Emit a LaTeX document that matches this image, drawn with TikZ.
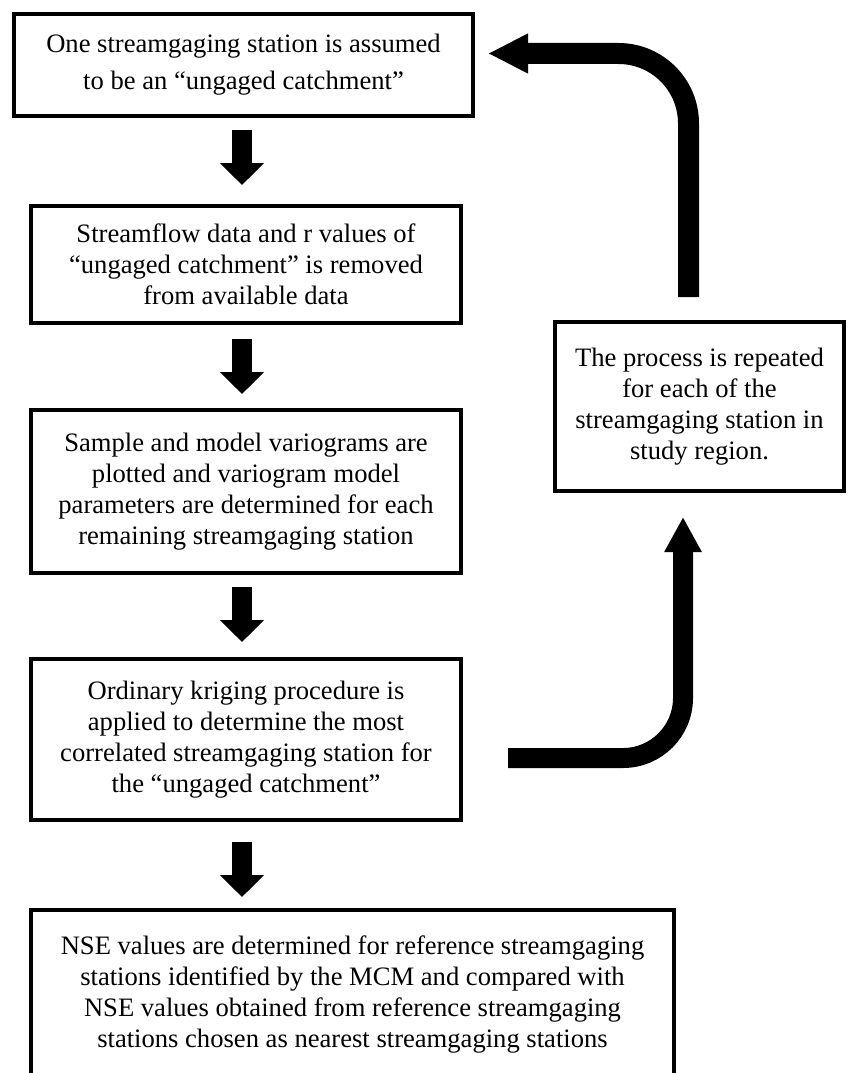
\documentclass[tikz,border=0pt]{standalone}
\usepackage{fontspec}
\setmainfont{Liberation Serif}
\usetikzlibrary{arrows.meta,calc}
\begin{document}
\begin{tikzpicture}[x=1pt,y=-1pt,
  box/.style={draw, line width=4pt, rectangle, align=center, inner sep=0pt,
    font=\fontsize{26.6}{31}\selectfont},
  downarr/.style={line width=20pt, -{Triangle[length=22pt,width=43pt]}},
  looparr/.style={line width=20pt, rounded corners=#1},
]
\clip (0,0) rectangle (848,1073);
\node[box, minimum width=459pt, minimum height=102pt, font=\fontsize{26.6}{37}\selectfont] (b1) at (243.5,65)
  {One streamgaging station is assumed\\to be an “ungaged catchment”};
\node[box, minimum width=430pt, minimum height=117pt] (b2) at (246,264.5)
  {Streamflow data and r values of\\“ungaged catchment” is removed\\from available data};
\node[box, minimum width=430pt, minimum height=163pt] (b3) at (246,491.5)
  {Sample and model variograms are\\plotted and variogram model\\parameters are determined for each\\remaining streamgaging station};
\node[box, minimum width=430pt, minimum height=161pt] (b4) at (246,739.5)
  {Ordinary kriging procedure is\\applied to determine the most\\correlated streamgaging station for\\the “ungaged catchment”};
\node[box, minimum width=643pt, minimum height=168pt] (b6) at (352.5,994)
  {NSE values are determined for reference streamgaging\\stations identified by the MCM and compared with\\NSE values obtained from reference streamgaging\\stations chosen as nearest streamgaging stations};
\node[box, minimum width=289pt, minimum height=169pt] (b5) at (699.5,406.5)
  {The process is repeated\\for each of the\\streamgaging station in\\study region.};

\draw[downarr] ($(b1.south)+(-1.5,12)$) -- ($(b2.north)+(-4,-19)$);
\draw[downarr] ($(b2.south)+(-4,14)$) -- ($(b3.north)+(-4,-14)$);
\draw[downarr] ($(b3.south)+(-4,12)$) -- ($(b4.north)+(-4,-15)$);
\draw[downarr] ($(b4.south)+(-4,20)$) -- ($(b4.south)+(-4,75)$);

\draw[looparr=60pt, -{Triangle[length=35pt,width=35pt]}]
  ($(b4.east)+(45,18.5)$) -| ($(b5.south)+(-16.5,24)$);
\draw[looparr=70pt, line width=21pt, -{Triangle[length=40pt,width=37pt]}]
  ($(b5.north)+(-11,-23)$) |- ($(b1.east)+(13,-11.5)$);
\end{tikzpicture}
\end{document}
